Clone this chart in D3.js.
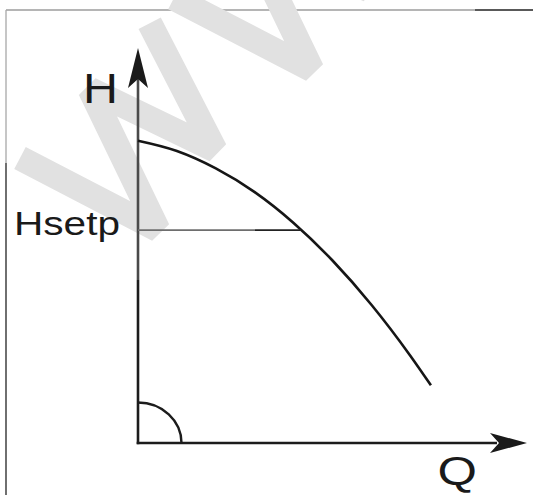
<!DOCTYPE html>
<html>
<head>
<meta charset="utf-8">
<script src="https://cdn.jsdelivr.net/npm/d3@7"></script>
<style>
  html, body { margin: 0; padding: 0; background: #fff; }
  svg { display: block; }
  text { font-family: "Liberation Sans", Arial, Helvetica, sans-serif; fill: #1a1a1a; }
</style>
</head>
<body>
<svg id="chart" width="533" height="495"></svg>
<script>
// Pump characteristic: head H against flow Q (relative units, 0–100 = axis length)
const flowQ = [0, 10, 20, 30, 40, 50, 60, 70, 75.3];
const headH = [76.5, 73.9, 69.5, 63.5, 55.7, 46.2, 35.0, 22.1, 14.6];
const setpointH = 53.9;
const axisLabels = { h: "H", q: "Q", setpoint: "Hsetp" };

const W = 533, H = 495;
const svg = d3.select("#chart");

const x = d3.scaleLinear().domain([0, 100]).range([138, 527]);
const y = d3.scaleLinear().domain([0, 100]).range([443, 48]);

// Frame around the drawing
const frame = svg.append("g").attr("fill", "none").attr("stroke-width", 1.3);
frame.append("line").attr("x1", 6).attr("y1", 10).attr("x2", 475).attr("y2", 10).attr("stroke", "#9c9c9c");
frame.append("line").attr("x1", 475).attr("y1", 10).attr("x2", W).attr("y2", 10).attr("stroke", "#222");
frame.append("line").attr("x1", 6).attr("y1", 10).attr("x2", 6).attr("y2", 163).attr("stroke", "#a8a8a8");
frame.append("line").attr("x1", 6).attr("y1", 163).attr("x2", 6).attr("y2", H).attr("stroke", "#222");

// Light "W" watermark glyphs laid diagonally across the sheet
const wGlyph = [[0, 0], [44, 149], [98, 3], [141, 135], [187, 0]];
const wAdvance = 222;
const mark = svg.append("g").attr("transform", "translate(20,158) rotate(-46.1)");
[0, 1, 2].forEach(i => {
  mark.append("path")
    .attr("d", d3.line()(wGlyph.map(p => [p[0] + i * wAdvance, p[1]])))
    .attr("fill", "none")
    .attr("stroke", "#e1e1e1")
    .attr("stroke-width", 25)
    .attr("stroke-linejoin", "bevel")
    .attr("stroke-linecap", "butt");
});

// Axes with arrowheads
const axes = svg.append("g");
const x0 = x(0), y0 = y(0), yTop = y(100), xEnd = x(100);
axes.append("line").attr("x1", x0).attr("y1", yTop + 30).attr("x2", x0).attr("y2", 280)
  .attr("stroke", "#4a4a4a").attr("stroke-width", 2.6);
axes.append("line").attr("x1", x0).attr("y1", 280).attr("x2", x0).attr("y2", y0 + 1.2)
  .attr("stroke", "#1c1c1c").attr("stroke-width", 2.6);
axes.append("line").attr("x1", x0 - 1.3).attr("y1", y0).attr("x2", xEnd - 30).attr("y2", y0)
  .attr("stroke", "#1c1c1c").attr("stroke-width", 2.6);

const arrowUp = d3.path();
arrowUp.moveTo(x0, yTop);
arrowUp.lineTo(x0 + 10, yTop + 40);
arrowUp.lineTo(x0, yTop + 31);
arrowUp.lineTo(x0 - 10, yTop + 40);
arrowUp.closePath();
axes.append("path").attr("d", arrowUp.toString()).attr("fill", "#1a1a1a");

const arrowRight = d3.path();
arrowRight.moveTo(xEnd, y0);
arrowRight.lineTo(xEnd - 37, y0 - 10);
arrowRight.lineTo(xEnd - 28, y0);
arrowRight.lineTo(xEnd - 37, y0 + 10);
arrowRight.closePath();
axes.append("path").attr("d", arrowRight.toString()).attr("fill", "#1a1a1a");

// Right-angle marker at the origin
const rx = 43.5, ry = 40.5;
axes.append("path")
  .attr("d", `M${x0},${y0 - ry} A${rx},${ry} 0 0 1 ${x0 + rx},${y0}`)
  .attr("fill", "none").attr("stroke", "#1c1c1c").attr("stroke-width", 2.4);

// Pump curve
const pts = flowQ.map((q, i) => [q, headH[i]]);
svg.append("path")
  .attr("d", d3.line().x(d => x(d[0])).y(d => y(d[1])).curve(d3.curveMonotoneX)(pts))
  .attr("fill", "none").attr("stroke", "#161616").attr("stroke-width", 2.6);

// Setpoint line runs from the H axis to where it meets the curve
let qHit = 0;
for (let i = 1; i < pts.length; i++) {
  const [qa, ha] = pts[i - 1], [qb, hb] = pts[i];
  if ((ha - setpointH) * (hb - setpointH) <= 0) {
    qHit = qa + (qb - qa) * (ha - setpointH) / (ha - hb);
    break;
  }
}
const ys = y(setpointH);
svg.append("line").attr("x1", x0).attr("y1", ys).attr("x2", 255).attr("y2", ys)
  .attr("stroke", "#6e6e6e").attr("stroke-width", 1.8);
svg.append("line").attr("x1", 255).attr("y1", ys).attr("x2", x(qHit)).attr("y2", ys)
  .attr("stroke", "#222").attr("stroke-width", 1.8);

// Labels
svg.append("text").attr("x", 83).attr("y", 103)
  .attr("font-size", 43).attr("textLength", 35).attr("lengthAdjust", "spacingAndGlyphs")
  .text(axisLabels.h);
svg.append("text").attr("x", 14).attr("y", 235)
  .attr("font-size", 32.5).attr("textLength", 106).attr("lengthAdjust", "spacingAndGlyphs")
  .text(axisLabels.setpoint);
svg.append("text").attr("x", 437.5).attr("y", 485)
  .attr("font-size", 41).attr("textLength", 39.5).attr("lengthAdjust", "spacingAndGlyphs")
  .text(axisLabels.q);
</script>
</body>
</html>
